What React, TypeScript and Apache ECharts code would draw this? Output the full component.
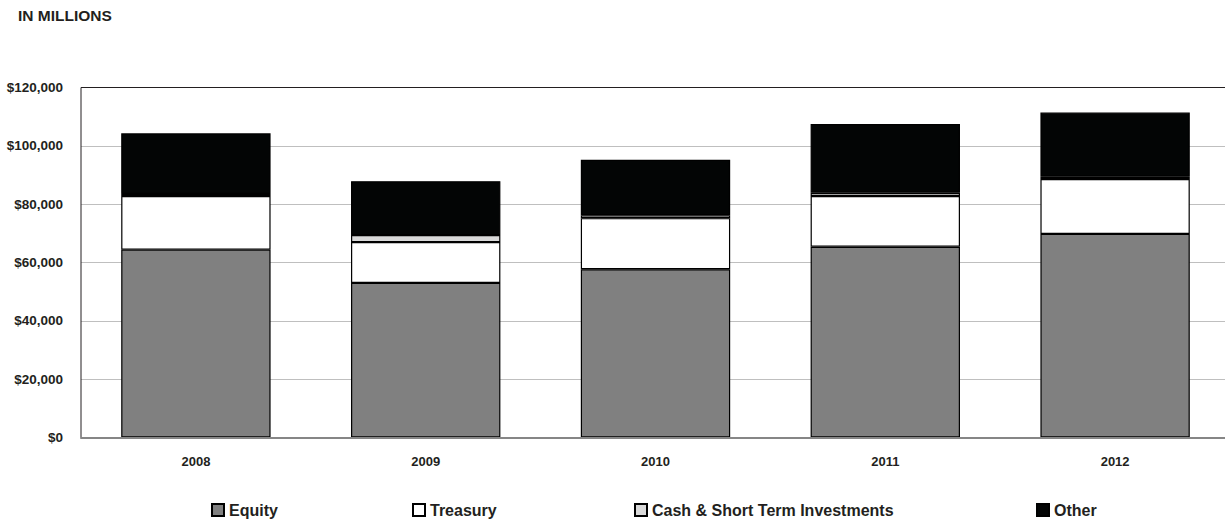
import React, { useEffect, useRef } from "react";
import * as echarts from "echarts";

const years = ["2008", "2009", "2010", "2011", "2012"];
const equity = [64400, 53000, 57700, 65400, 69800];
const treasury = [18400, 14000, 17500, 17400, 18800];
const cash = [700, 2400, 1000, 1100, 800];
const other = [20800, 18500, 19000, 23600, 22000];
const seriesNames = ["Equity", "Treasury", "Cash & Short Term Investments", "Other"];
const seriesColors = ["#808080", "#ffffff", "#d9d9d9", "#030505"];
const legendLefts = [211, 412, 634, 1036];

const FONT = "'Liberation Sans', Arial, sans-serif";
const TEXT = "#231f20";

export default function App() {
  const ref = useRef<HTMLDivElement>(null);
  useEffect(() => {
    if (!ref.current) return;
    const chart = echarts.init(ref.current, null, { renderer: "svg" });
    const values = [equity, treasury, cash, other];
    chart.setOption({
      animation: false,
      backgroundColor: "#ffffff",
      title: {
        text: "IN MILLIONS",
        left: 18,
        top: 7,
        padding: 0,
        textStyle: { fontFamily: FONT, fontSize: 15.5, fontWeight: "bold", color: TEXT },
      },
      legend: seriesNames.map((n, i) => ({
        data: [n],
        left: legendLefts[i],
        top: 502,
        padding: 0,
        itemWidth: 12,
        itemHeight: 12,
        itemTextGap: 6,
        icon: "rect",
        textStyle: { fontFamily: FONT, fontSize: 16, fontWeight: "bold", color: TEXT },
      })),
      grid: {
        show: true,
        left: 81,
        right: -5,
        top: 87.5,
        bottom: 87.5,
        containLabel: false,
        outerBoundsMode: "none",
        borderColor: TEXT,
        borderWidth: 1,
        backgroundColor: "transparent",
        z: 2,
      },
      xAxis: {
        type: "category",
        data: years,
        z: 4,
        axisLine: { show: true, lineStyle: { color: "#868686", width: 2 } },
        axisTick: { show: false },
        axisLabel: { fontFamily: FONT, fontSize: 13, fontWeight: "bold", color: TEXT, margin: 17 },
      },
      yAxis: {
        type: "value",
        min: 0,
        max: 120000,
        interval: 20000,
        z: 1,
        axisLine: { show: false },
        axisTick: { show: false },
        splitLine: { show: true, lineStyle: { color: "#bfbfbf", width: 1 } },
        axisLabel: {
          fontFamily: FONT,
          fontSize: 13.5,
          fontWeight: "bold",
          color: TEXT,
          margin: 18,
          formatter: (v: number) => "$" + v.toLocaleString("en-US"),
        },
      },
      series: seriesNames.map((n, i) => ({
        name: n,
        type: "bar",
        stack: "total",
        barWidth: "65%",
        z: 3,
        data: values[i],
        itemStyle: {
          color: seriesColors[i],
          borderColor: "#000000",
          borderWidth: 1.2,
        },
      })),
    });
    return () => chart.dispose();
  }, []);
  return (
    <div
      ref={ref}
      style={{ position: "absolute", left: 0, top: 0, width: 1225, height: 525 }}
    />
  );
}
